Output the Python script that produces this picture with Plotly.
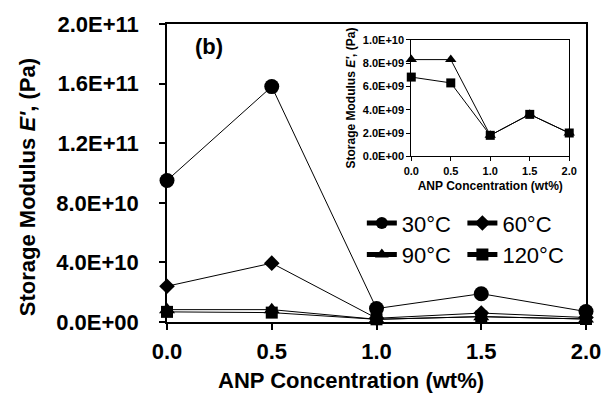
import plotly.graph_objects as go

conc = [0.0, 0.5, 1.0, 1.5, 2.0]
e30 = [9.5e10, 1.58e11, 9.0e9, 1.9e10, 7.0e9]
e60 = [2.4e10, 3.95e10, 2.5e9, 6.0e9, 3.0e9]
e90 = [8.3e9, 8.3e9, 1.8e9, 3.6e9, 2.0e9]
e120 = [6.8e9, 6.3e9, 1.8e9, 3.6e9, 2.0e9]

x_ticks = [0.0, 0.5, 1.0, 1.5, 2.0]
x_labels = ["0.0", "0.5", "1.0", "1.5", "2.0"]
y_ticks = [0, 4e10, 8e10, 1.2e11, 1.6e11, 2e11]
y_labels = ["0.0E+00", "4.0E+10", "8.0E+10", "1.2E+11", "1.6E+11", "2.0E+11"]
inset_y_ticks = [0, 2e9, 4e9, 6e9, 8e9, 1e10]
inset_y_labels = ["0.0E+00", "2.0E+09", "4.0E+09", "6.0E+09", "8.0E+09", "1.0E+10"]

FONT = "Liberation Sans, Arial, sans-serif"

fig = go.Figure()

series = [
    ("30°C", e30, "circle", 15, "legend"),
    ("60°C", e60, "diamond", 12, "legend2"),
    ("90°C", e90, "triangle-up", 14, "legend"),
    ("120°C", e120, "square", 12, "legend2"),
]
for name, vals, sym, size, leg in series:
    fig.add_trace(go.Scatter(
        x=conc, y=vals, mode="lines+markers", name=name,
        line=dict(color="black", width=1),
        marker=dict(symbol=sym, size=size, color="black"),
        legend=leg, xaxis="x", yaxis="y", cliponaxis=False,
    ))

for name, vals, sym, size in [("90°C", e90, "triangle-up", 10), ("120°C", e120, "square", 9)]:
    fig.add_trace(go.Scatter(
        x=conc, y=vals, mode="lines+markers", name=name, showlegend=False,
        line=dict(color="black", width=1),
        marker=dict(symbol=sym, size=size, color="black"),
        xaxis="x2", yaxis="y2", cliponaxis=False,
    ))

axis_common = dict(showgrid=False, zeroline=False, color="black")

fig.update_layout(
    width=613, height=396,
    margin=dict(l=167, r=17, t=18, b=74),
    paper_bgcolor="white", plot_bgcolor="white",
    font=dict(family=FONT, color="black"),
    xaxis=dict(
        range=[0, 2], tickmode="array", tickvals=x_ticks, ticktext=x_labels,
        ticks="outside", ticklen=6, tickwidth=1.5, tickcolor="black",
        showline=True, linecolor="black", linewidth=1.5, mirror=True,
        tickfont=dict(size=22, weight="bold"), ticklabelstandoff=3,
        **axis_common,
    ),
    yaxis=dict(
        range=[0, 2e11], tickmode="array", tickvals=y_ticks, ticktext=y_labels,
        ticks="outside", ticklen=6, tickwidth=1.5, tickcolor="black",
        showline=True, linecolor="black", linewidth=1.5, mirror=True,
        tickfont=dict(size=22, weight="bold"), ticklabelstandoff=16,
        **axis_common,
    ),
    xaxis3=dict(
        overlaying="x", anchor="y", side="bottom", range=[0, 2],
        tickmode="array", tickvals=x_ticks, ticks="inside", ticklen=6,
        tickwidth=1.5, tickcolor="black", showticklabels=False, showline=False,
        **axis_common,
    ),
    yaxis3=dict(
        overlaying="y", anchor="x", side="left", range=[0, 2e11],
        tickmode="array", tickvals=y_ticks, ticks="inside", ticklen=6,
        tickwidth=1.5, tickcolor="black", showticklabels=False, showline=False,
        **axis_common,
    ),
    xaxis2=dict(
        domain=[0.583, 0.960], anchor="y2", range=[0, 2],
        tickmode="array", tickvals=x_ticks, ticktext=x_labels,
        ticks="outside", ticklen=4, tickwidth=1, tickcolor="black",
        showline=True, linecolor="black", linewidth=1, mirror=True,
        tickfont=dict(size=11, weight="bold"),
        title=dict(text="ANP Concentration (wt%)", font=dict(size=12, weight="bold"), standoff=6),
        **axis_common,
    ),
    yaxis2=dict(
        domain=[0.556, 0.947], anchor="x2", range=[0, 1e10],
        tickmode="array", tickvals=inset_y_ticks, ticktext=inset_y_labels,
        ticks="outside", ticklen=4, tickwidth=1, tickcolor="black",
        showline=True, linecolor="black", linewidth=1, mirror=True,
        tickfont=dict(size=11, weight="bold"),
        title=dict(text="Storage Modulus <i>E'</i>, (Pa)", font=dict(size=12, weight="bold"), standoff=4),
        **axis_common,
    ),
    legend=dict(
        x=0.465, y=0.402, xanchor="left", yanchor="top",
        font=dict(size=22), bgcolor="rgba(0,0,0,0)", tracegroupgap=0,
        itemwidth=30, itemsizing="constant",
    ),
    legend2=dict(
        x=0.705, y=0.402, xanchor="left", yanchor="top",
        font=dict(size=22), bgcolor="rgba(0,0,0,0)", tracegroupgap=0,
        itemwidth=30, itemsizing="constant",
    ),
    annotations=[
        dict(text="<b>(b)</b>", x=0.1, y=0.925, xref="paper", yref="paper",
             showarrow=False, font=dict(size=22), xanchor="center", yanchor="middle"),
        dict(text="<b>Storage Modulus <i>E'</i>, (Pa)</b>", x=-0.333, y=0.454,
             xref="paper", yref="paper", showarrow=False, textangle=-90,
             font=dict(size=22), xanchor="center", yanchor="middle"),
        dict(text="<b>ANP Concentration (wt%)</b>", x=0.44, y=-0.197,
             xref="paper", yref="paper", showarrow=False,
             font=dict(size=22), xanchor="center", yanchor="middle"),
    ],
)

fig.write_html("out.html")
